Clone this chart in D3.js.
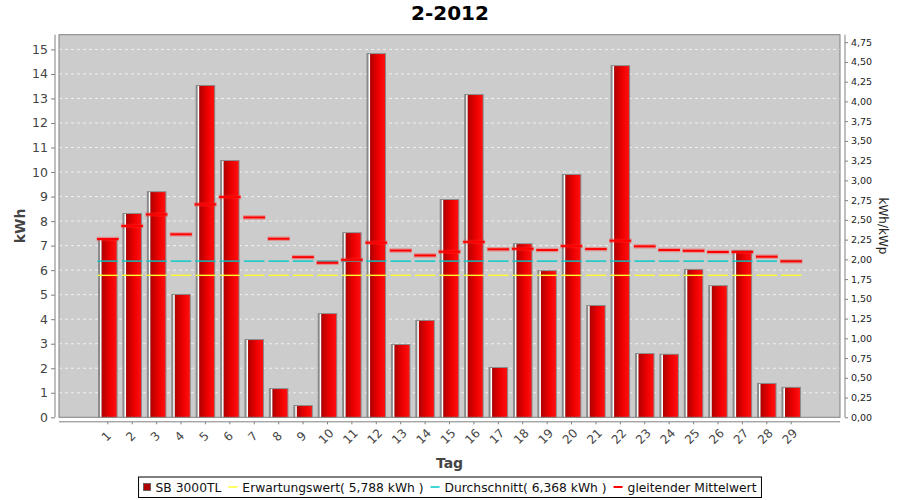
<!DOCTYPE html>
<html>
<head>
<meta charset="utf-8">
<script src="https://cdn.jsdelivr.net/npm/d3@7"></script>
<style>
  html, body { margin: 0; padding: 0; background: #fff; }
  svg { display: block; font-family: "DejaVu Sans", sans-serif; }
</style>
</head>
<body>
<svg id="chart" width="900" height="500"></svg>
<script>
// ---- data ----
const days = ["1","2","3","4","5","6","7","8","9","10","11","12","13","14","15","16","17","18","19","20","21","22","23","24","25","26","27","28","29"];
const production = [7.27, 8.33, 9.22, 5.03, 13.55, 10.49, 3.19, 1.19, 0.50, 4.25, 7.55, 14.85, 2.99, 3.97, 8.90, 13.18, 2.05, 7.10, 6.00, 9.92, 4.58, 14.36, 2.62, 2.59, 6.05, 5.39, 6.82, 1.40, 1.24];
const movingAvg = [7.27, 7.80, 8.27, 7.46, 8.68, 8.98, 8.15, 7.28, 6.53, 6.30, 6.42, 7.12, 6.80, 6.60, 6.75, 7.15, 6.85, 6.87, 6.82, 6.98, 6.86, 7.20, 6.97, 6.82, 6.79, 6.74, 6.74, 6.55, 6.36];
const expected = 5.788;
const average = 6.368;
const kWp = 3.22;
const leftTicks = [0,1,2,3,4,5,6,7,8,9,10,11,12,13,14,15];
const rightTicks = [0,0.25,0.5,0.75,1,1.25,1.5,1.75,2,2.25,2.5,2.75,3,3.25,3.5,3.75,4,4.25,4.5,4.75];
const legendLabels = ["SB 3000TL", "Erwartungswert( 5,788 kWh )", "Durchschnitt( 6,368 kWh )", "gleitender Mittelwert"];
const title = "2-2012";

// ---- layout ----
const svg = d3.select("#chart");
const L = 59, R = 840, T = 34.7, B = 417.3;
const yMax = 15.6;

const x = d3.scaleBand().domain(days).range([L, R]).paddingInner(0.2).paddingOuter(1.6);
const y = d3.scaleLinear().domain([0, yMax]).range([B, T]);
const y2 = d3.scaleLinear().domain([0, yMax / kWp]).range([B, T]);

const defs = svg.append("defs");
const grad = defs.append("linearGradient").attr("id", "barGrad").attr("x1", "0").attr("x2", "1").attr("y1", "0").attr("y2", "0");
grad.append("stop").attr("offset", "0%").attr("stop-color", "#b00000");
grad.append("stop").attr("offset", "55%").attr("stop-color", "#ee0000");
grad.append("stop").attr("offset", "100%").attr("stop-color", "#ff1010");

// title
svg.append("text").attr("x", 450).attr("y", 20).attr("text-anchor", "middle")
  .attr("font-size", 20).attr("font-weight", "bold").attr("fill", "#000").text(title);

// plot background
svg.append("rect").attr("x", L).attr("y", T).attr("width", R - L).attr("height", B - T)
  .attr("fill", "#cccccc");

// gridlines
svg.append("g").selectAll("line").data(leftTicks.filter(d => d > 0)).join("line")
  .attr("x1", L).attr("x2", R).attr("y1", d => y(d)).attr("y2", d => y(d))
  .attr("stroke", "#f0f0f0").attr("stroke-width", 1).attr("stroke-dasharray", "3,3");

// bars
const bw = x.bandwidth();
const bars = svg.append("g").selectAll("g").data(days).join("g");
bars.append("rect")
  .attr("x", d => x(d)).attr("y", (d, i) => y(production[i]))
  .attr("width", bw).attr("height", (d, i) => B - y(production[i]))
  .attr("fill", "#8a8a8a");
bars.append("rect")
  .attr("x", d => x(d) + 2).attr("y", (d, i) => y(production[i]) + 1)
  .attr("width", 1.6).attr("height", (d, i) => Math.max(0, B - y(production[i]) - 1))
  .attr("fill", "#ffffff");
bars.append("rect")
  .attr("x", d => x(d) + 3.6).attr("y", (d, i) => y(production[i]) + 1)
  .attr("width", bw - 4.6).attr("height", (d, i) => Math.max(0, B - y(production[i]) - 1))
  .attr("fill", "url(#barGrad)");

// expected (yellow) and average (cyan) level segments
svg.append("g").selectAll("line").data(days).join("line")
  .attr("x1", d => x(d) - 0.5).attr("x2", d => x(d) + bw + 0.5)
  .attr("y1", y(expected)).attr("y2", y(expected))
  .attr("stroke", "#ffff30").attr("stroke-width", 1.4);
svg.append("g").selectAll("line").data(days).join("line")
  .attr("x1", d => x(d) - 0.5).attr("x2", d => x(d) + bw + 0.5)
  .attr("y1", y(average)).attr("y2", y(average))
  .attr("stroke", "#00c8c8").attr("stroke-width", 1.4);

// moving average segments (with soft glow)
const ma = svg.append("g").selectAll("g").data(days).join("g");
ma.append("line")
  .attr("x1", d => x(d) - 1.5).attr("x2", d => x(d) + bw + 1.5)
  .attr("y1", (d, i) => y(movingAvg[i])).attr("y2", (d, i) => y(movingAvg[i]))
  .attr("stroke", "rgba(255,40,40,0.35)").attr("stroke-width", 4.5);
ma.append("line")
  .attr("x1", d => x(d) - 1).attr("x2", d => x(d) + bw + 1)
  .attr("y1", (d, i) => y(movingAvg[i])).attr("y2", (d, i) => y(movingAvg[i]))
  .attr("stroke", "#ff0000").attr("stroke-width", 2);

// plot outline
svg.append("rect").attr("x", L).attr("y", T).attr("width", R - L).attr("height", B - T)
  .attr("fill", "none").attr("stroke", "#808080").attr("stroke-width", 1);

// left axis
const leftAxis = svg.append("g").attr("transform", `translate(${L - 4},0)`)
  .call(d3.axisLeft(y).tickValues(leftTicks).tickSize(4).tickPadding(3).tickFormat(d3.format("d")));
leftAxis.select(".domain").attr("stroke", "#808080").attr("d", `M-0,${T}V${B}`);
leftAxis.selectAll(".tick line").attr("stroke", "#808080");
leftAxis.selectAll(".tick text").attr("font-size", 12.5).attr("fill", "#444").attr("font-family", "DejaVu Sans");

// right axis
const rightAxis = svg.append("g").attr("transform", `translate(${R + 5},0)`)
  .call(d3.axisRight(y2).tickValues(rightTicks).tickSize(3).tickPadding(3)
    .tickFormat(d => d3.format(".2f")(d).replace(".", ",")));
rightAxis.select(".domain").attr("stroke", "#808080").attr("d", `M0,${T}V${B}`);
rightAxis.selectAll(".tick line").attr("stroke", "#808080");
rightAxis.selectAll(".tick text").attr("font-size", 9.5).attr("fill", "#222").attr("font-family", "DejaVu Sans");

// bottom axis
const bottomAxis = svg.append("g").attr("transform", `translate(0,${B + 4.5})`)
  .call(d3.axisBottom(x).tickSize(2.5).tickPadding(0));
bottomAxis.select(".domain").attr("stroke", "#808080").attr("d", `M${L},0H${R}`);
bottomAxis.selectAll(".tick line").attr("stroke", "#808080");
bottomAxis.selectAll(".tick text")
  .attr("font-size", 12).attr("fill", "#444").attr("font-family", "DejaVu Sans")
  .attr("text-anchor", "middle").attr("dy", null).attr("y", null)
  .attr("transform", "translate(-1,15) rotate(-45)")
  .attr("dominant-baseline", "middle");

// axis titles
svg.append("text").attr("transform", "translate(25,226) rotate(-90)")
  .attr("text-anchor", "middle").attr("font-size", 14).attr("font-weight", "bold").attr("fill", "#444").text("kWh");
svg.append("text").attr("transform", "translate(878.5,226) rotate(90)")
  .attr("text-anchor", "middle").attr("font-size", 12).attr("fill", "#222").text("kWh/kWp");
svg.append("text").attr("x", 449.5).attr("y", 468)
  .attr("text-anchor", "middle").attr("font-size", 14).attr("font-weight", "bold").attr("fill", "#444").text("Tag");

// legend
const lg = svg.append("g");
const lgBox = lg.append("rect").attr("y", 477).attr("height", 20.5)
  .attr("fill", "#fff").attr("stroke", "#000").attr("stroke-width", 1);
const symColors = [null, "#ffff30", "#00c8c8", "#ff0000"];
let cx = 0;
legendLabels.forEach((lab, i) => {
  const g = lg.append("g");
  if (i === 0) {
    g.append("rect").attr("x", cx).attr("y", 483.5).attr("width", 7).attr("height", 7)
      .attr("fill", "#b00000").attr("stroke", "#555").attr("stroke-width", 0.8);
    cx += 12;
  } else {
    cx += 7;
    g.append("line").attr("x1", cx).attr("x2", cx + 9).attr("y1", 487).attr("y2", 487)
      .attr("stroke", symColors[i]).attr("stroke-width", i === 3 ? 2 : 1.5);
    cx += 14;
  }
  const t = g.append("text").attr("x", cx).attr("y", 491.5).attr("font-size", 12.3).attr("fill", "#111").text(lab);
  cx += t.node().getComputedTextLength();
});
const totalW = cx;
const startX = 450 - (totalW + 10) / 2;
lgBox.attr("x", startX).attr("width", totalW + 10);
lg.selectAll("g").attr("transform", `translate(${startX + 5},0)`);
</script>
</body>
</html>
